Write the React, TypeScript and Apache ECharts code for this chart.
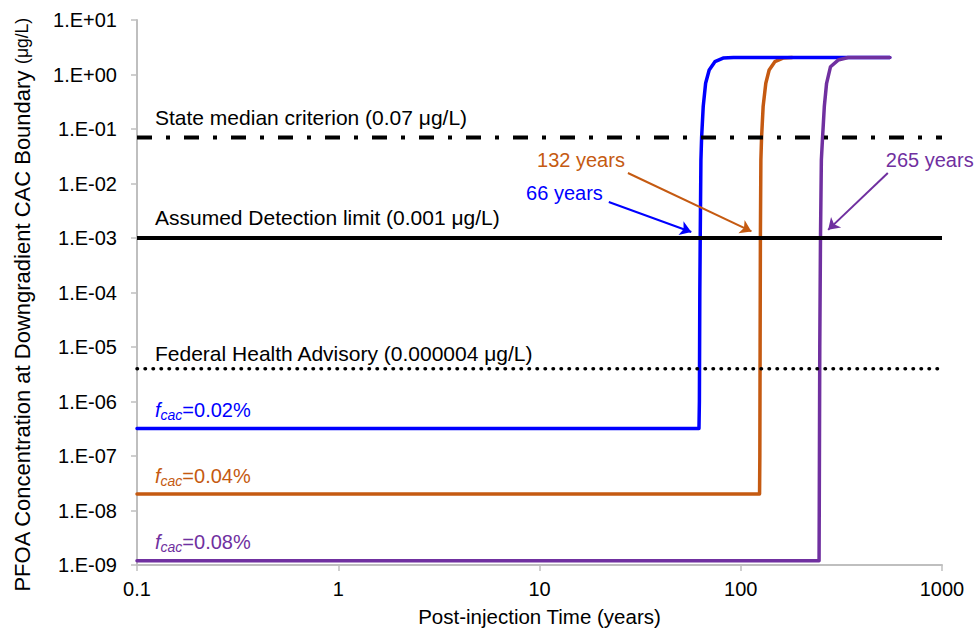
import React, { useEffect, useRef } from "react";
import * as echarts from "echarts";

// ---- data ----
const xRange = [0.1, 1000];
const yRange = [1e-9, 10];

const blueTime = [0.1, 62.0, 62.3, 62.6, 62.9, 63.4, 63.9, 65.1, 66.9, 69.7, 74.4, 81.7, 92, 550];
const blueConc = [3.2e-7, 3.2e-7, 1e-6, 1e-4, 1e-3, 0.027, 0.07, 0.26, 0.69, 1.21, 1.72, 2.0, 2.05, 2.05];

const orangeTime = [0.1, 124.0, 124.4, 124.8, 125.2, 125.9, 126.9, 129.2, 133.2, 138.4, 147.7, 162, 180];
const orangeConc = [2.0e-8, 2.0e-8, 1e-7, 1e-5, 1e-3, 0.027, 0.07, 0.26, 0.69, 1.21, 1.72, 2.0, 2.05];

const purpleTime = [0.1, 245.0, 245.5, 247.0, 249.0, 251.5, 255.0, 260.2, 267.0, 279.3, 304.7, 341.7, 550.5];
const purpleConc = [1.2e-9, 1.2e-9, 1e-8, 1e-5, 1e-3, 0.027, 0.07, 0.26, 0.69, 1.39, 1.84, 2.05, 2.05];

const refLevels = [0.07, 0.001, 0.000004];
const refLabels = [
  "State median criterion (0.07 μg/L)",
  "Assumed Detection limit (0.001 μg/L)",
  "Federal Health Advisory (0.000004 μg/L)",
];

const curveNames = ["0.02%", "0.04%", "0.08%"];
const breakthroughLabels = ["66 years", "132 years", "265 years"];
// arrow start / end in data coordinates [time, conc]
const arrowStart = [
  [22.1, 4.58e-3],
  [27.5, 0.0156],
  [538, 0.0156],
];
const arrowEnd = [
  [56.8, 1.29e-3],
  [113, 1.32e-3],
  [271.8, 1.41e-3],
];

const BLUE = "#0000ff";
const ORANGE = "#c55a11";
const PURPLE = "#7030a0";
const FONT = "'Liberation Sans', Arial, sans-serif";

const zip = (a: number[], b: number[]) => a.map((v, i) => [v, b[i]]);

export default function App() {
  const ref = useRef<HTMLDivElement>(null);

  useEffect(() => {
    if (!ref.current) return;
    const chart = echarts.init(ref.current, null, { renderer: "svg" });

    const curveSeries = (
      name: string,
      t: number[],
      c: number[],
      color: string,
      arrowIdx: number
    ) => ({
      name,
      type: "line",
      data: zip(t, c),
      showSymbol: false,
      symbol: "none",
      lineStyle: { color, width: 3.5, join: "round", cap: "round" },
      itemStyle: { color },
      z: 2,
      markLine: {
        silent: true,
        symbol: ["none", "arrow"],
        symbolSize: 11,
        label: { show: false },
        lineStyle: { color, width: 2, type: "solid" },
        data: [
          [
            { coord: arrowStart[arrowIdx] },
            { coord: arrowEnd[arrowIdx] },
          ],
        ],
      },
    });

    const refStyles = [
      { type: [15, 14, 4, 14], width: 4, cap: "butt" },
      { type: "solid", width: 4, cap: "butt" },
      { type: [0.5, 7.5], width: 3.5, cap: "round" },
    ];

    const refSeries = refLevels.map((lvl, i) => ({
      name: refLabels[i],
      type: "line",
      data: [
        [xRange[0], lvl],
        [xRange[1], lvl],
      ],
      showSymbol: false,
      symbol: "none",
      z: 3,
      lineStyle: { color: "#000", ...refStyles[i] },
    }));

    const option: any = {
      animation: false,
      backgroundColor: "#fff",
      textStyle: { fontFamily: FONT },
      grid: {
        left: 137,
        right: 34,
        top: 20,
        bottom: 64,
        containLabel: false,
        outerBoundsMode: "none",
      },
      xAxis: {
        type: "log",
        logBase: 10,
        min: xRange[0],
        max: xRange[1],
        splitNumber: 4,
        name: "Post-injection Time (years)",
        nameLocation: "middle",
        nameGap: 41,
        nameTextStyle: { fontSize: 20.5, color: "#000", fontFamily: FONT },
        axisLine: { lineStyle: { color: "#bfbfbf", width: 2 } },
        axisTick: { show: true, length: 6, inside: false, lineStyle: { color: "#bfbfbf", width: 1.5 } },
        axisLabel: {
          fontSize: 20,
          color: "#000",
          margin: 14,
          fontFamily: FONT,
          formatter: (v: number) => String(Number(v.toPrecision(1))),
        },
        splitLine: { show: false },
        minorTick: { show: false },
      },
      yAxis: {
        type: "log",
        logBase: 10,
        min: yRange[0],
        max: yRange[1],
        splitNumber: 10,
        axisLine: { show: true, lineStyle: { color: "#bfbfbf", width: 2 } },
        axisTick: { show: true, length: 6, inside: false, lineStyle: { color: "#bfbfbf", width: 1.5 } },
        axisLabel: {
          fontSize: 20,
          color: "#000",
          margin: 20,
          fontFamily: FONT,
          formatter: (v: number) => {
            const e = Math.round(Math.log10(v));
            return `1.E${e < 0 ? "-" : "+"}${String(Math.abs(e)).padStart(2, "0")}`;
          },
        },
        splitLine: { show: false },
        minorTick: { show: false },
      },
      series: [
        curveSeries("fcac=0.04%", orangeTime, orangeConc, ORANGE, 1),
        curveSeries("fcac=0.02%", blueTime, blueConc, BLUE, 0),
        curveSeries("fcac=0.08%", purpleTime, purpleConc, PURPLE, 2),
        ...refSeries,
      ],
    };

    chart.setOption(option);

    const px = (p: number[]) => chart.convertToPixel({ gridIndex: 0 }, p) as number[];

    const graphics: any[] = [];

    // y axis title
    graphics.push({
      type: "text",
      x: 22,
      y: 305,
      rotation: Math.PI / 2,
      style: {
        text: "{a|PFOA Concentration at Downgradient CAC Boundary }{b|(μg/L)}",
        align: "center",
        verticalAlign: "middle",
        rich: {
          a: { fontSize: 22, fill: "#000", fontFamily: FONT },
          b: { fontSize: 17.5, fill: "#000", fontFamily: FONT },
        },
      },
    });

    // reference line labels
    const refDy = [-20, -21, -15];
    refLevels.forEach((lvl, i) => {
      const p = px([xRange[0], lvl]);
      graphics.push({
        type: "text",
        x: p[0] + 18,
        y: p[1] + refDy[i],
        style: {
          text: refLabels[i],
          fill: "#000",
          fontSize: 21,
          fontFamily: FONT,
          align: "left",
          verticalAlign: "middle",
        },
      });
    });

    // curve labels
    const curveColors = [BLUE, ORANGE, PURPLE];
    const curveBase = [blueConc[0], orangeConc[0], purpleConc[0]];
    const curveDy = [-18, -18, -19];
    curveNames.forEach((nm, i) => {
      const p = px([xRange[0], curveBase[i]]);
      const col = curveColors[i];
      graphics.push({
        type: "text",
        x: p[0] + 18,
        y: p[1] + curveDy[i],
        style: {
          text: `{f|f}{s|cac}{n|=${nm}}`,
          align: "left",
          verticalAlign: "middle",
          rich: {
            f: { fontSize: 20, fontStyle: "italic", fill: col, fontFamily: FONT },
            s: { fontSize: 14, fontStyle: "italic", fill: col, fontFamily: FONT, padding: [10, 0, 0, 0] },
            n: { fontSize: 20, fill: col, fontFamily: FONT },
          },
        },
      });
    });

    // breakthrough time labels
    const labelOff = [
      { dx: -6, dy: -9, align: "right" },
      { dx: -3, dy: -13, align: "right" },
      { dx: -2, dy: -13, align: "left" },
    ];
    breakthroughLabels.forEach((t, i) => {
      const p = px(arrowStart[i]);
      graphics.push({
        type: "text",
        x: p[0] + labelOff[i].dx,
        y: p[1] + labelOff[i].dy,
        style: {
          text: t,
          fill: curveColors[i],
          fontSize: 20,
          fontFamily: FONT,
          align: labelOff[i].align,
          verticalAlign: "middle",
        },
      });
    });

    chart.setOption({ graphic: graphics });

    return () => chart.dispose();
  }, []);

  return <div ref={ref} style={{ width: 976, height: 629, position: "absolute", left: 0, top: 0 }} />;
}
